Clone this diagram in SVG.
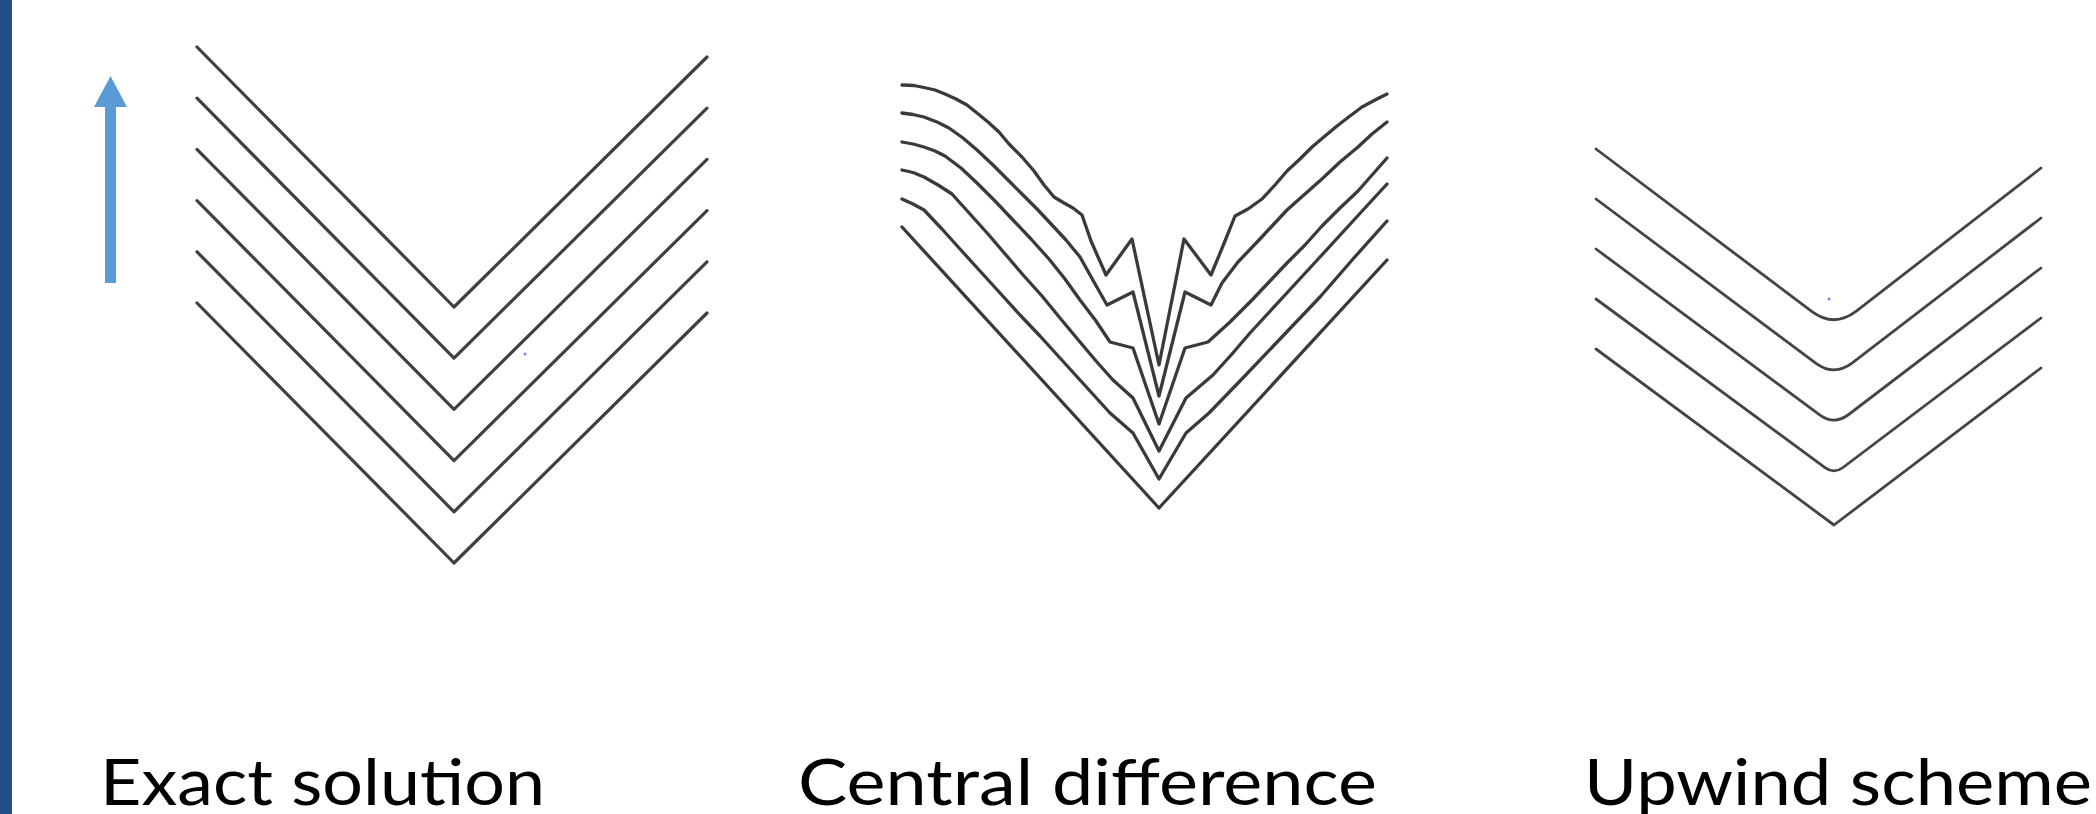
<svg xmlns="http://www.w3.org/2000/svg" width="2096" height="814" viewBox="0 0 2096 814">
<style>
.ln{fill:none;stroke:#3c3c3c;stroke-linejoin:round;stroke-linecap:round}
.ex{stroke-width:3.2;stroke:#404040}
.cd{stroke-width:3.3;stroke:#3a3a3a}
.uw{stroke-width:2.8;stroke:#444444}
.lbl{font-family:Lato,"Open Sans","Liberation Sans",sans-serif;font-size:64px;fill:#000}
.dot{fill:#7d7dff}
</style>
<rect x="0" y="0" width="2096" height="814" fill="#ffffff"/>
<rect id="sidebar" x="0" y="0" width="12" height="814" fill="#234e86"/>
<g id="arrow">
<rect x="105" y="105" width="11" height="178" fill="#5b9bd5"/>
<polygon points="110.5,76 94,107 127,107" fill="#5b9bd5"/>
</g>
<g id="exact">
<polyline class="ln ex" points="197,47 454,307 707,57"/>
<polyline class="ln ex" points="197,98.2 454,358.2 707,108.2"/>
<polyline class="ln ex" points="197,149.4 454,409.4 707,159.4"/>
<polyline class="ln ex" points="197,200.6 454,460.6 707,210.6"/>
<polyline class="ln ex" points="197,251.8 454,511.8 707,261.8"/>
<polyline class="ln ex" points="197,303 454,563 707,313"/>
<circle class="dot" cx="525" cy="354" r="1.5"/>
</g>
<g id="central">
<polyline class="ln cd" points="902,85 914,85.5 924,87.5 935,90 945,94 956,99 967,105 977,113 988,122 999,132 1009,144 1022,157 1034,171 1044,185 1054,197 1064,203 1073,208 1082,215 1091,241 1106,275 1132,239 1159,365 1184,239 1211,275 1225,241 1235,216 1248,209 1262,199 1275,185 1287,171 1300,159 1312,147 1325,136 1337,126 1350,116 1362,107 1375,100 1387,94"/>
<polyline class="ln cd" points="902,113 913,114.5 924,117 937,122 949,128 963,138 977,150 993,165 1009,181 1024,196 1038,210 1052,225 1066,240 1080,257 1094,282 1107,305 1133,292 1159,396 1185,292 1211,305 1222,283 1238,262 1259,240 1273,225 1287,210 1305,194 1323,178 1340,162 1358,147 1372,134 1387,122"/>
<polyline class="ln cd" points="902,142 913,144 924,147 935,151 945,156 961,168 977,183 995,201 1013,220 1031,239 1049,259 1065,279 1080,300 1096,321 1110,342 1133,348 1159,424 1185,348 1208,342 1230,322 1252,300 1270,281 1287,263 1305,245 1322,226 1340,208 1358,191 1387,158"/>
<polyline class="ln cd" points="902,170 913,172.5 924,177 938,185 952,194 970,214 988,234 1006,255 1024,276 1042,296 1060,318 1080,342 1096,361 1113,380 1133,398 1159,451 1186,398 1213,375 1232,354 1250,333 1285,295 1320,257 1353,221 1387,184"/>
<polyline class="ln cd" points="902,199 913,204 924,210 942,229 960,249 980,271 1000,293 1020,315 1040,336 1060,358 1080,380 1110,413 1133,433 1159,479 1186,433 1209,413 1240,381 1280,339 1320,297 1353,259 1387,221"/>
<polyline class="ln cd" points="902,227 1159,508 1387,260"/>
</g>
<g id="upwind">
<path class="ln uw" d="M1596,149 L1812,311.6 Q1834,327.9 1856,311.4 L2041,168"/>
<path class="ln uw" d="M1596,199 L1816,363.4 Q1834,376.5 1852,363.2 L2041,218"/>
<path class="ln uw" d="M1596,249 L1820,415.1 Q1834,425.2 1848,415 L2041,268"/>
<path class="ln uw" d="M1596,299 L1825,467.6 Q1834,474.2 1843,467.5 L2041,318"/>
<path class="ln uw" d="M1596,349 L1834,525 L2041,368"/>
<circle class="dot" cx="1829" cy="299" r="1.5"/>
</g>
<g id="labels">
<text class="lbl" x="100" y="805" textLength="445" lengthAdjust="spacingAndGlyphs">Exact solution</text>
<text class="lbl" x="798" y="805" textLength="579" lengthAdjust="spacingAndGlyphs">Central difference</text>
<text class="lbl" x="1584" y="805" textLength="508" lengthAdjust="spacingAndGlyphs">Upwind scheme</text>
</g>
</svg>
